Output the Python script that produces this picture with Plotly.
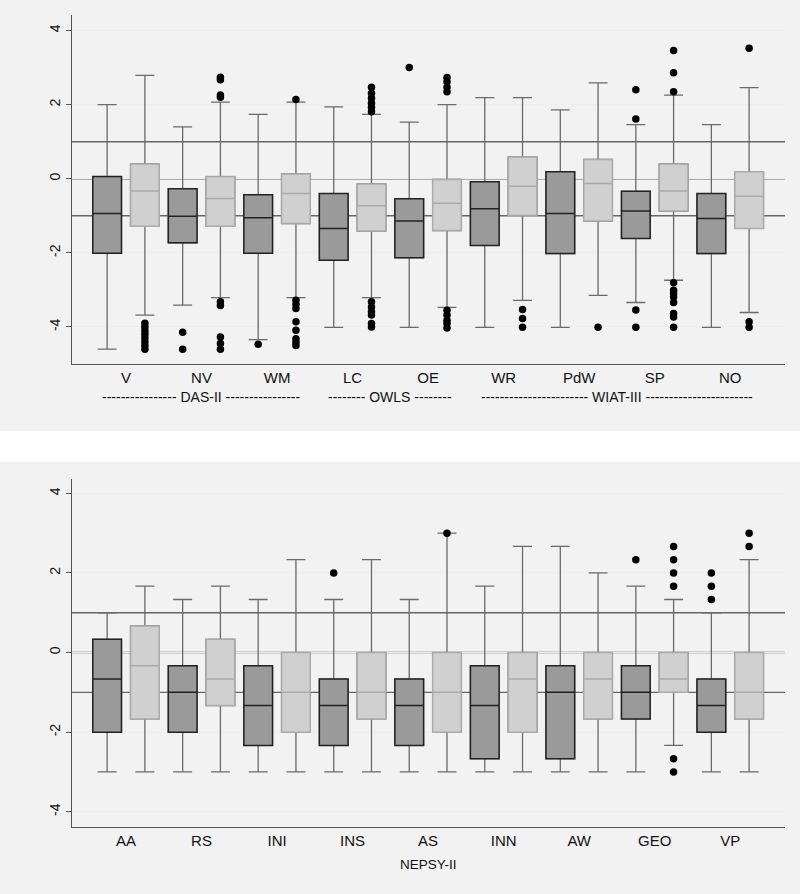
import plotly.graph_objects as go

# ---------------- Top panel data (DAS-II, OWLS, WIAT-III) ----------------
top_cats = ["V", "NV", "WM", "LC", "OE", "WR", "PdW", "SP", "NO"]
top_dark_q1 = [-2.01, -1.73, -2.01, -2.20, -2.13, -1.80, -2.02, -1.61, -2.02]
top_dark_med = [-0.94, -1.01, -1.05, -1.34, -1.14, -0.81, -0.94, -0.87, -1.07]
top_dark_q3 = [0.06, -0.27, -0.43, -0.40, -0.54, -0.08, 0.19, -0.34, -0.40]
top_dark_lo = [-4.60, -3.41, -4.34, -4.01, -4.01, -4.01, -4.01, -3.34, -4.01]
top_dark_hi = [2.00, 1.40, 1.74, 1.94, 1.53, 2.19, 1.86, 1.46, 1.46]
top_dark_out = [
    [],
    [-4.14, -4.60],
    [-4.47],
    [],
    [3.00],
    [],
    [],
    [2.40, 1.61, -3.54, -4.01],
    [],
]
top_light_q1 = [-1.28, -1.28, -1.21, -1.41, -1.40, -0.99, -1.14, -0.87, -1.34]
top_light_med = [-0.33, -0.53, -0.40, -0.73, -0.66, -0.20, -0.13, -0.33, -0.47]
top_light_q3 = [0.40, 0.06, 0.13, -0.14, -0.02, 0.59, 0.52, 0.40, 0.19]
top_light_lo = [-3.68, -3.21, -3.21, -3.21, -3.47, -3.28, -3.15, -2.74, -3.61]
top_light_hi = [2.79, 2.07, 2.07, 1.74, 2.00, 2.19, 2.59, 2.26, 2.46]
top_light_out = [
    [-3.90, -4.00, -4.10, -4.20, -4.30, -4.40, -4.50, -4.60],
    [2.74, 2.67, 2.26, 2.20, -3.32, -3.42, -4.27, -4.45, -4.60],
    [2.14, -3.28, -3.39, -3.50, -3.86, -4.09, -4.32, -4.41, -4.50],
    [2.47, 2.31, 2.17, 2.04, 1.93, 1.81, -3.32, -3.46, -3.59, -3.68, -3.91, -4.00],
    [2.73, 2.62, 2.47, 2.35, -3.55, -3.68, -3.82, -3.91, -4.03],
    [-3.53, -3.77, -4.01],
    [-4.01],
    [3.46, 2.86, 2.35, -2.81, -3.01, -3.10, -3.19, -3.34, -3.64, -3.73, -4.01],
    [3.52, -3.86, -4.01],
]
top_groups = ["---------------- DAS-II ----------------",
              "-------- OWLS --------",
              "----------------------- WIAT-III -----------------------"]
top_group_members = [["V", "NV", "WM"], ["LC", "OE"], ["WR", "PdW", "SP", "NO"]]

# ---------------- Bottom panel data (NEPSY-II) ----------------
bot_cats = ["AA", "RS", "INI", "INS", "AS", "INN", "AW", "GEO", "VP"]
bot_dark_q1 = [-2.0, -2.0, -2.333, -2.333, -2.333, -2.667, -2.667, -1.667, -2.0]
bot_dark_med = [-0.667, -1.0, -1.333, -1.333, -1.333, -1.333, -1.0, -1.0, -1.333]
bot_dark_q3 = [0.333, -0.333, -0.333, -0.667, -0.667, -0.333, -0.333, -0.333, -0.667]
bot_dark_lo = [-3.0] * 9
bot_dark_hi = [1.0, 1.333, 1.333, 1.333, 1.333, 1.667, 2.667, 1.667, 1.0]
bot_dark_out = [[], [], [], [2.0], [], [], [], [2.333], [2.0, 1.667, 1.333]]
bot_light_q1 = [-1.667, -1.333, -2.0, -1.667, -2.0, -2.0, -1.667, -1.0, -1.667]
bot_light_med = [-0.333, -0.667, -1.0, -1.0, -1.0, -0.667, -0.667, -0.667, -1.0]
bot_light_q3 = [0.667, 0.333, 0.0, 0.0, 0.0, 0.0, 0.0, 0.0, 0.0]
bot_light_lo = [-3.0, -3.0, -3.0, -3.0, -3.0, -3.0, -3.0, -2.333, -3.0]
bot_light_hi = [1.667, 1.667, 2.333, 2.333, 3.0, 2.667, 2.0, 1.333, 2.333]
bot_light_out = [[], [], [], [], [3.0], [], [], [2.667, 2.333, 2.0, 1.667, -2.667, -3.0], [3.0, 2.667]]
bot_group = "NEPSY-II"

yticks = [-4, -2, 0, 2, 4]
ref_lines = [1, 0, -1]

# ---------------- Styling ----------------
DARK_FILL = "#9a9a9a"
DARK_LINE = "#222222"
LIGHT_FILL = "#d0d0d0"
LIGHT_LINE = "#aaaaaa"
WHISKER = "#6a6a6a"
BOX_W = 0.76
FONT = "Liberation Sans, Arial, sans-serif"

fig = go.Figure()

def add_panel(xa, ya, cats, dq1, dmed, dq3, dlo, dhi, dout, lq1, lmed, lq3, llo, lhi, lout):
    n = len(cats)
    xd = [2 * i for i in range(n)]
    xl = [2 * i + 1 for i in range(n)]
    for xs, q1, med, q3, lo, hi, fill, line in [
        (xd, dq1, dmed, dq3, dlo, dhi, DARK_FILL, DARK_LINE),
        (xl, lq1, lmed, lq3, llo, lhi, LIGHT_FILL, LIGHT_LINE),
    ]:
        # whiskers + caps
        fig.add_trace(go.Box(x=xs, q1=q1, median=med, q3=q3, lowerfence=lo, upperfence=hi,
                             width=BOX_W, whiskerwidth=0.66, fillcolor=fill,
                             line=dict(color=WHISKER, width=1.3), boxpoints=False,
                             xaxis=xa, yaxis=ya, showlegend=False, hoverinfo="skip"))
        # box body
        fig.add_trace(go.Box(x=xs, q1=q1, median=med, q3=q3, lowerfence=q1, upperfence=q3,
                             width=BOX_W, whiskerwidth=0, fillcolor=fill,
                             line=dict(color=line, width=1.5), boxpoints=False,
                             xaxis=xa, yaxis=ya, showlegend=False, hoverinfo="skip"))
    ox, oy = [], []
    for xs, outs in [(xd, dout), (xl, lout)]:
        for x, vals in zip(xs, outs):
            for v in vals:
                ox.append(x)
                oy.append(v)
    fig.add_trace(go.Scatter(x=ox, y=oy, mode="markers",
                             marker=dict(color="black", size=7.5),
                             xaxis=xa, yaxis=ya, showlegend=False, hoverinfo="skip"))
    return [2 * i + 0.5 for i in range(n)]

top_centers = add_panel("x", "y", top_cats, top_dark_q1, top_dark_med, top_dark_q3, top_dark_lo,
                        top_dark_hi, top_dark_out, top_light_q1, top_light_med, top_light_q3,
                        top_light_lo, top_light_hi, top_light_out)
bot_centers = add_panel("x2", "y2", bot_cats, bot_dark_q1, bot_dark_med, bot_dark_q3, bot_dark_lo,
                        bot_dark_hi, bot_dark_out, bot_light_q1, bot_light_med, bot_light_q3,
                        bot_light_lo, bot_light_hi, bot_light_out)

W, H = 800, 894
x_dom = [72 / W, 785 / W]
top_dom = [1 - 364 / H, 1 - 15 / H]
bot_dom = [1 - 827.3 / H, 1 - 479 / H]

xcommon = dict(range=[-0.93, 17.95], showgrid=False, zeroline=False, showline=True,
               linecolor="#555555", linewidth=1.2, ticks="",
               tickfont=dict(family=FONT, size=15, color="#111"),
               automargin=False, fixedrange=True, domain=x_dom)
ycommon = dict(tickvals=yticks, ticktext=[str(t) for t in yticks], showgrid=True,
               gridcolor="#e8f0f1", gridwidth=1, zeroline=False, showline=True,
               linecolor="#555555", linewidth=1.2, ticks="outside", ticklen=5,
               tickcolor="#555555", tickangle=-90,
               tickfont=dict(family=FONT, size=14, color="#111"),
               automargin=False, fixedrange=True)

fig.update_layout(
    width=W, height=H, margin=dict(l=0, r=0, t=0, b=0),
    paper_bgcolor="white", plot_bgcolor="white", boxmode="overlay",
    xaxis=dict(xcommon, anchor="y", tickvals=top_centers, ticktext=top_cats),
    yaxis=dict(ycommon, domain=top_dom, range=[-5.0, 4.42], anchor="x"),
    xaxis2=dict(xcommon, anchor="y2", tickvals=bot_centers, ticktext=bot_cats),
    yaxis2=dict(ycommon, domain=bot_dom, range=[-4.39, 4.36], anchor="x2"),
)

shapes = [
    dict(type="rect", xref="paper", yref="paper", x0=0, x1=1, y0=1 - 431 / H, y1=1,
         fillcolor="#f2f2f2", line=dict(width=0), layer="below"),
    dict(type="rect", xref="paper", yref="paper", x0=0, x1=1, y0=0, y1=1 - 462 / H,
         fillcolor="#f2f2f2", line=dict(width=0), layer="below"),
]
for xr, yr in [("x domain", "y"), ("x2 domain", "y2")]:
    for v in ref_lines:
        shapes.append(dict(type="line", xref=xr, yref=yr, x0=0, x1=1, y0=v, y1=v,
                           line=dict(color="#666666", width=1.4), layer="below"))
fig.update_layout(shapes=shapes)

annotations = []
for label, members in zip(top_groups, top_group_members):
    xs = [top_centers[top_cats.index(m)] for m in members]
    annotations.append(dict(x=(min(xs) + max(xs)) / 2, y=1 - 397 / H, xref="x", yref="paper",
                            yanchor="middle", text=label, showarrow=False,
                            font=dict(family=FONT, size=14, color="#111")))
annotations.append(dict(x=(bot_centers[0] + bot_centers[-1]) / 2, y=1 - 864 / H, xref="x2",
                        yref="paper", yanchor="middle", text=bot_group, showarrow=False,
                        font=dict(family=FONT, size=13.5, color="#111")))
fig.update_layout(annotations=annotations)

fig.write_html("out.html", config={"displayModeBar": False},
               post_script="document.body.style.margin='0px';document.body.style.overflow='hidden';")
